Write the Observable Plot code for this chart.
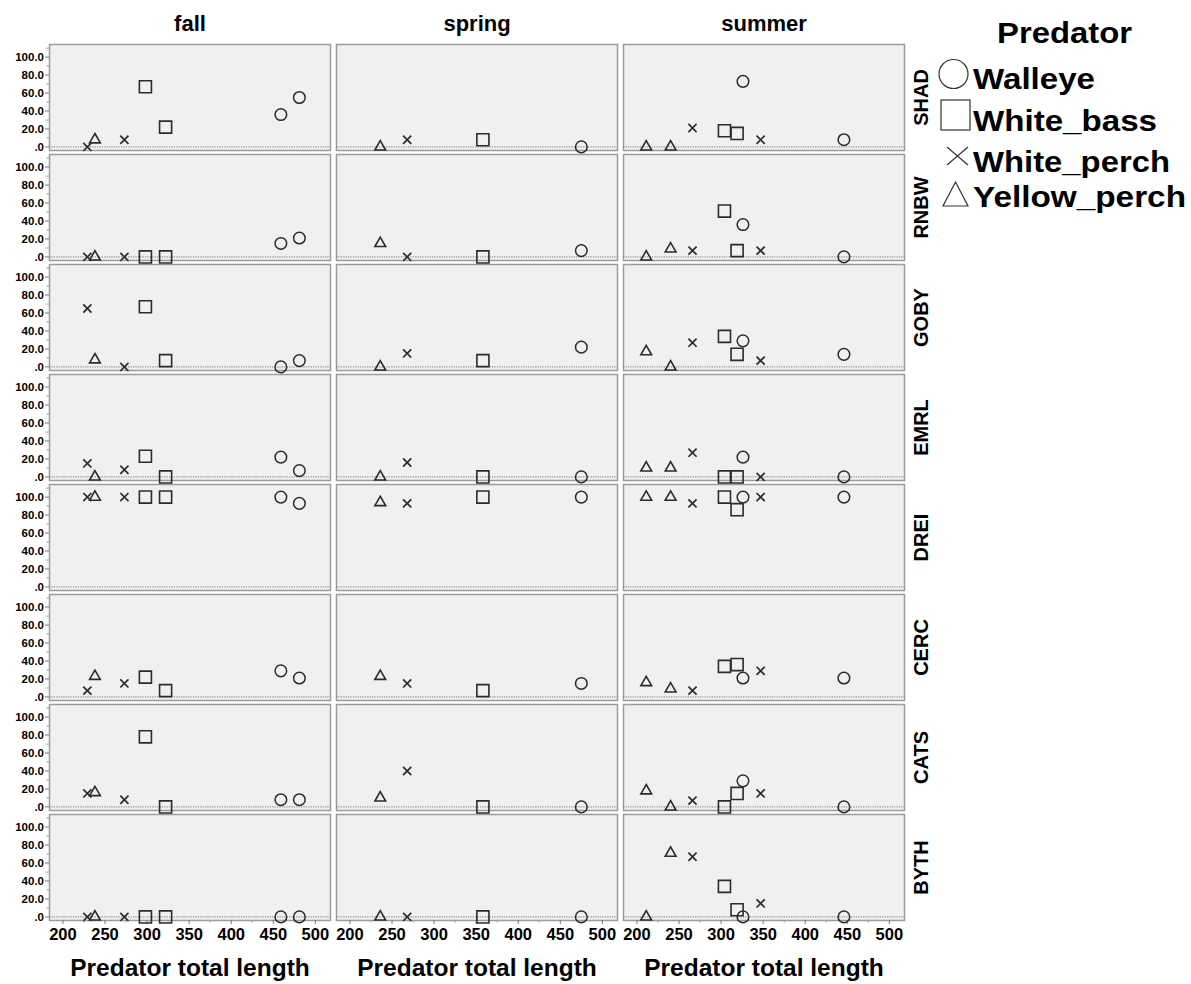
<!DOCTYPE html>
<html>
<head>
<meta charset="utf-8">
<script src="https://cdn.jsdelivr.net/npm/d3@7"></script>
<script src="https://cdn.jsdelivr.net/npm/@observablehq/plot@0.6"></script>
<style>
  html, body { margin: 0; padding: 0; background: white; }
  #wrap { position: relative; width: 1191px; height: 984px; }
  #legend { position: absolute; left: 0; top: 0; }
</style>
</head>
<body>
<div id="wrap"><div id="chart"></div><svg id="legend" width="1191" height="240"></svg></div>
<script>
const seasons = ["fall", "spring", "summer"];
const prey = ["SHAD", "RNBW", "GOBY", "EMRL", "DREI", "CERC", "CATS", "BYTH"];
const predators = ["Walleye", "White_bass", "White_perch", "Yellow_perch"];
const yTicks = [0, 20, 40, 60, 80, 100];
const yMinorTicks = [10, 30, 50, 70, 90, 110];
const xTicks = [200, 250, 300, 350, 400, 450, 500];
const xMinorTicks = [225, 275, 325, 375, 425, 475];

const fallLength = [229, 238, 273, 298, 322, 459, 481];
const fallPredator = ["White_perch", "Yellow_perch", "White_perch", "White_bass", "White_bass", "Walleye", "Walleye"];
const fallValues = [
  [0, 8, 8, 67, 22, 36, 55],
  [0, 0, 0, 0, 0, 15, 21],
  [65, 8, 0, 67, 7, 0, 7],
  [15, 0, 8, 23, 0, 22, 7],
  [100, 100, 100, 100, 100, 100, 93],
  [7, 23, 15, 22, 7, 29, 21],
  [15, 16, 8, 78, 0, 8, 8],
  [0, 0, 0, 0, 0, 0, 0]
];

const springLength = [236, 268, 358, 475];
const springPredator = ["Yellow_perch", "White_perch", "White_bass", "Walleye"];
const springValues = [
  [0, 8, 8, 0],
  [15, 0, 0, 7],
  [0, 15, 7, 22],
  [0, 16, 0, 0],
  [94, 93, 100, 100],
  [23, 15, 7, 15],
  [10, 40, 0, 0],
  [0, 0, 0, 0]
];

const summerLength = [211, 240, 266, 304, 319, 326, 347, 446];
const summerPredator = ["Yellow_perch", "Yellow_perch", "White_perch", "White_bass", "White_bass", "Walleye", "White_perch", "Walleye"];
const summerValues = [
  [0, 0, 21, 18, 15, 73, 8, 8],
  [0, 9, 7, 51, 7, 36, 7, 0],
  [17, 0, 27, 34, 14, 29, 7, 14],
  [10, 10, 27, 0, 0, 22, 0, 0],
  [100, 100, 93, 100, 86, 100, 100, 100],
  [16, 9, 7, 34, 36, 21, 29, 21],
  [18, 0, 7, 0, 15, 29, 15, 0],
  [0, 71, 67, 34, 8, 0, 15, 0]
];

const seasonData = {
  fall: [fallLength, fallPredator, fallValues],
  spring: [springLength, springPredator, springValues],
  summer: [summerLength, summerPredator, summerValues]
};

const rows = [];
for (const s of seasons) {
  const [len, pred, vals] = seasonData[s];
  prey.forEach((p, i) => {
    len.forEach((l, j) => {
      rows.push({season: s, prey: p, length: l, predator: pred[j], value: vals[i][j]});
    });
  });
}

const ink = "#2b2b2b";
const symbolStyle = {
  Walleye: {symbol: "circle", r: 5.8, strokeWidth: 1.5},
  White_bass: {symbol: "square", r: 6.8, strokeWidth: 1.6},
  White_perch: {symbol: "times", r: 3.8, strokeWidth: 1.7},
  Yellow_perch: {symbol: "triangle", r: 4.0, strokeWidth: 1.6}
};

const dotMarks = predators.map(p => Plot.dot(rows.filter(d => d.predator === p), {
  x: "length", y: "value", fx: "season", fy: "prey",
  symbol: symbolStyle[p].symbol, r: symbolStyle[p].r,
  stroke: ink, strokeWidth: symbolStyle[p].strokeWidth, fill: "none"
}));

const chart = Plot.plot({
  width: 1191,
  height: 984,
  marginLeft: 48,
  marginRight: 286,
  marginTop: 41,
  marginBottom: 62,
  style: {fontFamily: "'Liberation Sans', Arial, sans-serif", fontWeight: "bold", background: "white", color: "black"},
  fx: {domain: seasons, padding: 0.021, axis: null},
  fy: {domain: prey, padding: 0.04, axis: null},
  x: {domain: [184, 518], axis: null},
  y: {domain: [-4, 114], axis: null},
  marks: [
    Plot.frame({fill: "#f0f0f0", stroke: "#9c9c9c", strokeWidth: 1.5}),
    Plot.ruleY([0], {stroke: "#7a7a7a", strokeDasharray: "1.2,1.2", strokeWidth: 1}),
    Plot.axisY({ticks: yTicks, anchor: "left", tickSize: 4, tickPadding: 1.5, fontSize: 11.5,
      tickFormat: d => d === 0 ? ".0" : d.toFixed(1), label: null, stroke: "#777"}),
    Plot.axisY({ticks: yMinorTicks.filter(t => t < 114), anchor: "left", tickSize: 2.5, tickFormat: () => "", label: null, stroke: "#999"}),
    Plot.axisX({ticks: xTicks, anchor: "bottom", tickSize: 4, tickPadding: 4, fontSize: 16.5, label: null, stroke: "#777"}),
    Plot.axisX({ticks: xMinorTicks, anchor: "bottom", tickSize: 2.5, tickFormat: () => "", label: null, stroke: "#999"}),
    ...dotMarks,
    Plot.text(seasons, {fx: d => d, fy: () => "SHAD", text: d => d, frameAnchor: "top",
      textAnchor: "middle", lineAnchor: "middle", dy: -21, fontSize: 22}),
    Plot.text(prey, {fy: d => d, fx: () => "summer", text: d => d, frameAnchor: "right",
      textAnchor: "middle", lineAnchor: "middle", dx: 17, rotate: -90, fontSize: 20}),
    Plot.text(seasons, {fx: d => d, fy: () => "BYTH", text: () => "Predator total length", frameAnchor: "bottom",
      textAnchor: "middle", lineAnchor: "middle", dy: 48, fontSize: 24.5})
  ]
});
document.getElementById("chart").appendChild(chart);

// Legend
const lg = d3.select("#legend")
  .style("font-family", "'Liberation Sans', Arial, sans-serif")
  .style("font-weight", "bold");
lg.append("text").attr("x", 997).attr("y", 43).attr("font-size", 29)
  .attr("textLength", 135).attr("lengthAdjust", "spacingAndGlyphs").text("Predator");
const legendRows = [
  {name: predators[0], base: 89, len: 122},
  {name: predators[1], base: 131, len: 184},
  {name: predators[2], base: 172, len: 197},
  {name: predators[3], base: 207, len: 213}
];
legendRows.forEach(r => {
  lg.append("text").attr("x", 973).attr("y", r.base).attr("font-size", 29.5)
    .attr("textLength", r.len).attr("lengthAdjust", "spacingAndGlyphs").text(r.name);
});
const sym = lg.append("g").attr("fill", "none").attr("stroke", "#333").attr("stroke-width", 1.2);
sym.append("circle").attr("cx", 953.5).attr("cy", 74).attr("r", 14.5);
sym.append("rect").attr("x", 941).attr("y", 100).attr("width", 29).attr("height", 30);
sym.append("path").attr("d", "M947,147L968,165M968,147L947,165");
sym.append("path").attr("d", "M955.5,182L968,206L943,206Z");
</script>
</body>
</html>
